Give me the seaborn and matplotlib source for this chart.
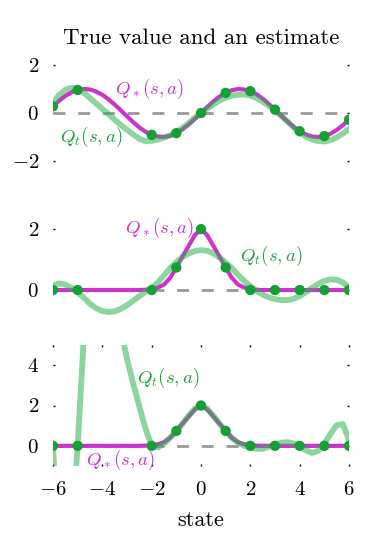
import numpy as np
import matplotlib
matplotlib.use("Agg")
import matplotlib.pyplot as plt
import seaborn as sns

# ---------------- data ----------------
states = np.linspace(-6, 6, 49)  # sampling grid of the curves (step 0.25)

true_sine = [0.28, 0.51, 0.71, 0.86, 0.96, 1.00, 0.98, 0.89, 0.76, 0.57, 0.35, 0.11,
             -0.14, -0.38, -0.60, -0.78, -0.91, -0.98, -1.00, -0.95, -0.84, -0.68, -0.48, -0.25,
             0.00, 0.25, 0.48, 0.68, 0.84, 0.95, 1.00, 0.98, 0.91, 0.78, 0.60, 0.38,
             0.14, -0.11, -0.35, -0.57, -0.76, -0.89, -0.98, -1.00, -0.96, -0.86, -0.71, -0.51, -0.28]

est_sine = [0.40, 0.75, 0.97, 1.05, 1.00, 0.85, 0.62, 0.40, 0.17, -0.05, -0.28, -0.50,
            -0.70, -0.90, -1.08, -1.17, -1.16, -1.11, -1.03, -0.93, -0.80, -0.62, -0.42, -0.20,
            0.00, 0.18, 0.36, 0.52, 0.64, 0.72, 0.76, 0.77, 0.72, 0.62, 0.48, 0.30,
            0.10, -0.12, -0.35, -0.60, -0.82, -0.98, -1.10, -1.17, -1.19, -1.13, -1.02, -0.86, -0.66]

true_bump = [0, 0, 0, 0, 0, 0, 0, 0, 0, 0, 0, 0,
             0, 0, 0, 0.01, 0.03, 0.08, 0.18, 0.40, 0.74, 1.10, 1.45, 1.80,
             2.00, 1.80, 1.45, 1.10, 0.74, 0.40, 0.18, 0.08, 0.03, 0.01, 0, 0,
             0, 0, 0, 0, 0, 0, 0, 0, 0, 0, 0, 0, 0]

est_bump_smooth = [0.15, 0.22, 0.18, 0.07, -0.07, -0.25, -0.45, -0.60, -0.69, -0.72, -0.70, -0.62,
                   -0.50, -0.35, -0.20, -0.05, 0.05, 0.25, 0.48, 0.72, 0.92, 1.08, 1.20, 1.28,
                   1.31, 1.29, 1.20, 1.07, 0.90, 0.72, 0.50, 0.30, 0.13, -0.03, -0.15, -0.24,
                   -0.30, -0.33, -0.33, -0.29, -0.20, -0.07, 0.07, 0.20, 0.30, 0.35, 0.34, 0.25, 0.08]

est_bump_overfit = [0.0, -6.0, -6.5, -4.5, 0.0, 5.4, 10.0, 13.5, 14.5, 12.5, 9.0, 5.8,
                    4.3, 3.1, 1.95, 0.85, 0.0, -0.08, 0.10, 0.40, 0.72, 1.10, 1.50, 1.85,
                    2.00, 1.85, 1.50, 1.10, 0.72, 0.40, 0.15, 0.00, -0.08, -0.15, -0.15, -0.05,
                    0.08, 0.15, 0.18, 0.12, 0.00, -0.22, -0.35, -0.25, 0.10, 0.60, 1.02, 1.08, 0.30]

sample_states = [-6, -5, -2, -1, 0, 1, 2, 3, 4, 5, 6]
sample_sine = [0.28, 0.96, -0.91, -0.84, 0.00, 0.84, 0.91, 0.14, -0.76, -0.96, -0.28]
sample_bump = [0, 0, 0, 0.74, 2.00, 0.74, 0, 0, 0, 0, 0]

zero_x = [-6, 6]
zero_y = [0, 0]

xticks = [-6, -4, -2, 0, 2, 4, 6]
title = "True value and an estimate"
xlabel = "state"
label_true = r"$Q_*(s,a)$"
label_est = r"$Q_t(s,a)$"

# ---------------- style ----------------
sns.set_style("white")
plt.rcParams["font.family"] = ["cmr10", "DejaVu Serif"]
plt.rcParams["mathtext.fontset"] = "cm"
plt.rcParams["axes.formatter.use_mathtext"] = True
plt.rcParams["axes.unicode_minus"] = True
plt.rcParams["text.color"] = "black"
plt.rcParams["axes.labelcolor"] = "black"
plt.rcParams["xtick.color"] = "black"
plt.rcParams["ytick.color"] = "black"

MAG = "#cc33cc"
GREEN_LINE = "#2eb34f"
DOT = "#14a032"
GREEN_TXT = "#1f9e3f"
DASH = "#999999"

fig = plt.figure(figsize=(3.7, 5.36), dpi=100)
ax1 = fig.add_axes([53/370, 1-161/536, 296/370, 96/536])
ax2 = fig.add_axes([53/370, 1-320.5/536, 296/370, 97.5/536])
ax3 = fig.add_axes([53/370, 1-466/536, 296/370, 121/536])

panels = [
    (ax1, true_sine, est_sine, sample_sine, (-2, 2), [-2, 0, 2]),
    (ax2, true_bump, est_bump_smooth, sample_bump, (-1, 2.2), [0, 2]),
    (ax3, true_bump, est_bump_overfit, sample_bump, (-1, 5), [0, 2, 4]),
]

for ax, tv, ev, sv, ylim, yt in panels:
    sns.lineplot(x=zero_x, y=zero_y, ax=ax, color=DASH, linewidth=2.0,
                 linestyle=(0, (4.3, 4.6)), zorder=1)
    sns.lineplot(x=states, y=tv, ax=ax, color=MAG, linewidth=3.0, zorder=2)
    sns.lineplot(x=states, y=ev, ax=ax, color=GREEN_LINE, alpha=0.55, linewidth=4.2, zorder=3)
    sns.scatterplot(x=sample_states, y=sv, ax=ax, color=DOT, s=55, edgecolor="none",
                    linewidth=0, zorder=4)
    ax.set_xlim(-6, 6)
    ax.set_ylim(*ylim)
    ax.set_yticks(yt)
    for sp in ax.spines.values():
        sp.set_visible(False)
    ax.tick_params(axis="y", direction="in", length=1.5, width=1, left=True, right=True,
                   labelsize=15, pad=10, colors="black")
    ax.set_xlabel("")
    ax.set_ylabel("")

for ax in (ax1, ax2):
    ax.set_xticks([])

ax3.set_xticks(xticks)
ax3.tick_params(axis="x", direction="in", length=1.5, width=1, bottom=True, top=True,
                labelsize=15, pad=11, colors="black")
ax3.set_xlabel(xlabel, fontsize=16, labelpad=8, color="black")

fig.text(201/370, 1-38/536, title, ha="center", va="center", fontsize=16.5, color="black")

txt = dict(ha="center", va="center", fontsize=13.5)
ax1.text(-2.1, 1.0, label_true, color=MAG, **txt)
ax1.text(-4.46, -1.0, label_est, color=GREEN_TXT, **txt)
ax2.text(-1.7, 2.03, label_true, color=MAG, **txt)
ax2.text(2.86, 1.11, label_est, color=GREEN_TXT, **txt)
ax3.text(-1.34, 3.35, label_est, color=GREEN_TXT, **txt)
ax3.text(-3.28, -0.69, label_true, color=MAG, **txt)

fig.savefig("out.png", dpi=100)
